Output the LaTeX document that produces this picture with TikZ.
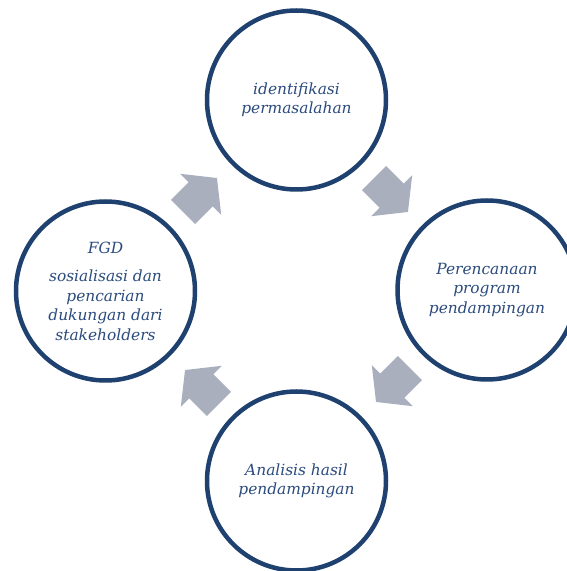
\documentclass[tikz,border=0pt]{standalone}
\usepackage{fontspec}
\setmainfont{DejaVu Serif}
\definecolor{ringblue}{HTML}{1F416F}
\definecolor{textblue}{HTML}{2B4B7E}
\definecolor{arrowgray}{HTML}{A9AFBD}
\tikzset{
  ring/.style={circle, draw=ringblue, line width=4.5pt, fill=white, minimum size=179pt, inner sep=0pt,
    align=center, text=textblue, font=\fontsize{15.4pt}{19.5pt}\selectfont\itshape},
  cyclearrow/.pic={\fill[arrowgray] (-24,-17) -- (1,-17) -- (1,-29) -- (24,0) -- (1,29) -- (1,17) -- (-24,17) -- cycle;}
}
\begin{document}
\begin{tikzpicture}[x=1pt,y=1pt]
\useasboundingbox (0,0) rectangle (567,571);
\node[ring] (top) at (296.5,471) {identifikasi\\permasalahan};
\node[ring] (right) at (487,281) {Perencanaan\\program\\pendampingan};
\node[ring] (bottom) at (296.5,90) {Analisis hasil\\pendampingan};
\node[ring] (left) at (105.5,280) {FGD\\[9pt]sosialisasi dan\\pencarian\\dukungan dari\\stakeholders};
\pic[rotate=45] at (200,376) {cyclearrow};
\pic[rotate=-45] at (391,376) {cyclearrow};
\pic[rotate=-135] at (393,186) {cyclearrow};
\pic[rotate=135] at (202,184) {cyclearrow};
\end{tikzpicture}
\end{document}
